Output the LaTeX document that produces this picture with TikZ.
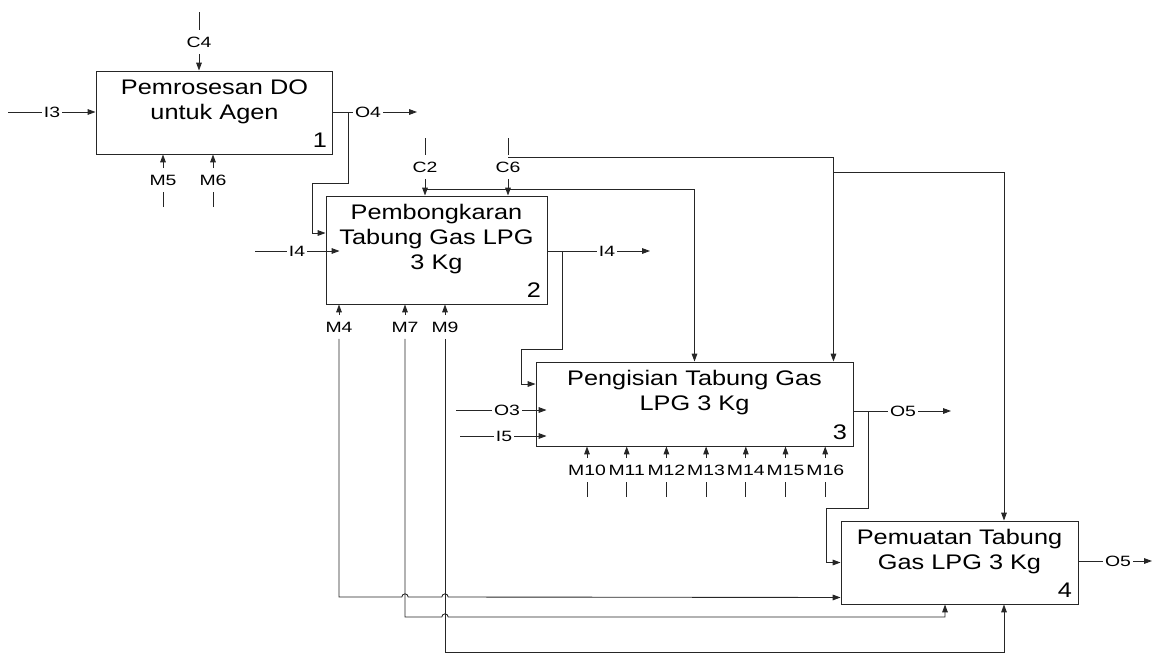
\documentclass[tikz,border=0pt]{standalone}
\usepackage{fontspec}
\setmainfont{Liberation Sans}[FakeStretch=1.2]
\newfontfamily\lblfam{Liberation Sans}[FakeStretch=1.3]
\usetikzlibrary{arrows.meta}

\newcommand\boxfont{\fontsize{12}{14.2}\selectfont}
\newcommand\lblfont{\lblfam\fontsize{8.5}{9.5}\selectfont}

\begin{document}
\begin{tikzpicture}[x=0.02cm, y=-0.02cm,
        proc/.style={rectangle, draw=black!85, line width=0.55pt, inner sep=0pt},
        ptext/.style={align=center, font=\boxfont, yshift=0.22cm},
        pnum/.style={anchor=south east, font=\boxfont, inner sep=3.5pt},
        lbl/.style={font=\lblfont, inner xsep=1pt, inner ysep=3.6pt},
        flow/.style={draw=black!85, line width=0.5pt},
        arr/.style={flow, -{Triangle[length=4.5pt,width=3.2pt]}}]

    \useasboundingbox (0,0) rectangle (1165,653);

    % activity boxes
    \node[proc, minimum width=4.74cm, minimum height=1.66cm] (p1) at (214.5,112.5) {};
    \node[ptext] (p1txt) at (p1) {Pemrosesan DO\\untuk Agen};
    \node[pnum] (p1num) at (p1.south east) {1};

    \node[proc, minimum width=4.42cm, minimum height=2.16cm] (p2) at (436.5,250) {};
    \node[ptext] (p2txt) at (p2) {Pembongkaran\\Tabung Gas LPG\\3 Kg};
    \node[pnum] (p2num) at (p2.south east) {2};

    \node[proc, minimum width=6.34cm, minimum height=1.68cm] (p3) at (694.5,404) {};
    \node[ptext] (p3txt) at (p3) {Pengisian Tabung Gas\\LPG 3 Kg};
    \node[pnum] (p3num) at (p3.south east) {3};

    \node[proc, minimum width=4.74cm, minimum height=1.66cm] (p4) at (959.5,562.5) {};
    \node[ptext] (p4txt) at (p4) {Pemuatan Tabung\\Gas LPG 3 Kg};
    \node[pnum] (p4num) at (p4.south east) {4};

    % box 1
    \coordinate (c4s) at (199,12);
    \node[lbl] (c4) at (199,42) {C4};
    \draw[arr] (c4s) -- (c4) -- (p1.north -| c4);

    \coordinate (i3s) at (8,112);
    \node[lbl] (i3) at (52,112) {I3};
    \draw[arr] (i3s) -- (i3) -- (p1.west |- i3);

    \node[lbl] (o4) at (368,112) {O4};
    \coordinate (o4e) at (417,112);
    \draw[arr] (p1.east |- o4) -- (o4) -- (o4e);
    \coordinate (p1j) at (348,112);
    \draw[arr] (p1j) |- ++(-36,71) |- ([yshift=0.34cm]p2.west);

    \foreach \nm/\xx in {5/163, 6/213} {
        \node[lbl] (m\nm) at (\xx,180) {M\nm};
        \coordinate (m\nm-s) at (\xx,207);
        \draw[arr] (m\nm-s) -- (m\nm) -- (p1.south -| m\nm);
    }

    % box 2
    \coordinate (c2s) at (425,138);
    \node[lbl] (c2) at (425,167) {C2};
    \draw[arr] (c2s) -- (c2) -- (p2.north -| c2);
    \coordinate (c2j) at (425,189);
    \draw[arr] (c2j) -| (p3.north);

    \coordinate (c6s) at (508,138);
    \node[lbl] (c6) at (508,167) {C6};
    \draw[arr] (c6s) -- (c6) -- (p2.north -| c6);
    \coordinate (c6j) at (508,157);
    \draw[arr] (c6j) -| ([xshift=-0.4cm]p3.north east);
    \coordinate (c6k) at (833,172);
    \draw[arr] (c6k) -| ([xshift=0.89cm]p4.north);

    \coordinate (i4s) at (255,251);
    \node[lbl] (i4a) at (297,251) {I4};
    \draw[arr, shorten >=-0.28cm] (i4s) -- (i4a) -- (p2.west |- i4a);

    \node[lbl] (i4b) at (607,251) {I4};
    \coordinate (i4e) at (650,251);
    \draw[arr] (p2.east |- i4b) -- (i4b) -- (i4e);
    \coordinate (p2j) at (562,251);
    \draw[arr] (p2j) |- ++(-41,98) |- ([yshift=0.4cm]p3.west);

    \foreach \nm/\xx in {4/339, 7/405, 9/445} {
        \node[lbl] (m\nm) at (\xx,327) {M\nm};
        \draw[arr] (m\nm) -- (p2.south -| m\nm);
    }

    % mechanisms of box 2 running on to box 4
    \draw[arr] (m4) |- ([xshift=-1.8pt]405,597) arc[start angle=180, end angle=0, radius=1.8pt]
        -- ([xshift=-1.8pt]445,597) arc[start angle=180, end angle=0, radius=1.8pt]
        -- ([yshift=0.14cm]p4.south west);
    \draw[arr] (m7) |- ([xshift=-1.8pt]445,617) arc[start angle=180, end angle=0, radius=1.8pt]
        -| ([xshift=-0.29cm]p4.south);
    \draw[arr] (m9) -- (445,652) -| ([xshift=0.89cm]p4.south);

    % box 3
    \coordinate (o3s) at (456,410);
    \node[lbl] (o3) at (507,410) {O3};
    \draw[arr, shorten >=-0.22cm] (o3s) -- (o3) -- (p3.west |- o3);

    \coordinate (i5s) at (460,436);
    \node[lbl] (i5) at (504,436) {I5};
    \draw[arr, shorten >=-0.22cm] (i5s) -- (i5) -- (p3.west |- i5);

    \foreach \nm [evaluate=\nm as \xx using {587+39.7*(\nm-10)}] in {10,...,16} {
        \node[lbl] (m\nm) at (\xx,470) {M\nm};
        \coordinate (m\nm-s) at (\xx,497);
        \draw[arr] (m\nm-s) -- (m\nm) -- (p3.south -| m\nm);
    }

    \node[lbl] (o5a) at (903,411) {O5};
    \coordinate (o5ae) at (951,411);
    \draw[arr] (p3.east |- o5a) -- (o5a) -- (o5ae);
    \coordinate (p3j) at (868,411);
    \draw[arr] (p3j) |- ++(-42,97) |- (p4.west);

    % box 4
    \node[lbl] (o5b) at (1118,561) {O5};
    \coordinate (o5be) at (1152,561);
    \draw[arr] (p4.east |- o5b) -- (o5b) -- (o5be);

\end{tikzpicture}
\end{document}
